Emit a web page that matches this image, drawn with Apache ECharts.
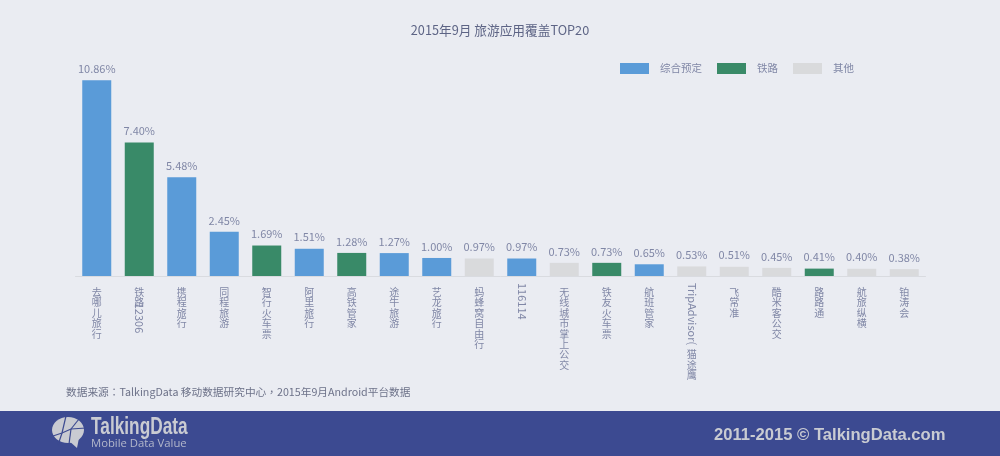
<!DOCTYPE html>
<html>
<head>
<meta charset="utf-8">
<style>
    html, body { margin: 0; padding: 0; background: #eaecf2; }
    #main { width: 1000px; height: 456px; }
</style>
<script src="https://cdn.jsdelivr.net/npm/echarts@6/dist/echarts.min.js"></script>
</head>
<body>
<div id="main"></div>
<script>
    var categories = ['去哪儿旅行', '铁路12306', '携程旅行', '同程旅游', '智行火车票', '阿里旅行', '高铁管家', '途牛旅游', '艺龙旅行', '蚂蜂窝自由行', '116114', '无线城市掌上公交', '铁友火车票', '航班管家', 'TripAdvisor(猫途鹰', '飞常准', '酷米客公交', '路路通', '航旅纵横', '铂涛会'];
    var bookingValues = [10.86, null, 5.48, 2.45, null, 1.51, null, 1.27, 1.00, null, 0.97, null, null, 0.65, null, null, null, null, null, null];
    var railValues = [null, 7.40, null, null, 1.69, null, 1.28, null, null, null, null, null, 0.73, null, null, null, null, 0.41, null, null];
    var otherValues = [null, null, null, null, null, null, null, null, null, 0.97, null, 0.73, null, null, 0.53, 0.51, 0.45, null, 0.40, 0.38];

    // 竖排标签: 中文逐字换行, 拉丁字符侧转(放在第二条x轴上)
    var uprightLabels = ['去哪儿旅行', '铁路', '携程旅行', '同程旅游', '智行火车票', '阿里旅行', '高铁管家', '途牛旅游', '艺龙旅行', '蚂蜂窝自由行', '', '无线城市掌上公交', '铁友火车票', '航班管家', '\n\n\n\n\n\n猫途鹰', '飞常准', '酷米客公交', '路路通', '航旅纵横', '铂涛会'];
    var sideLabels = ['', '        12306', '', '', '', '', '', '', '', '', '116114', '', '', '', 'TripAdvisor(', '', '', '', '', ''];

    var FONT = '"Noto Sans CJK SC", "Noto Sans", sans-serif',
        TEXT_COLOR = '#8087a6',
        BAND_COLOR = '#3c4a91',
        LOGO_COLOR = '#c9cbd2';

    function verticalText(str) {
        return str.split('\n').map(function (s) {
            return s.split('').join('\n');
        }).join('\n');
    }

    function makeSeries(name, values, color) {
        return {
            name: name,
            type: 'bar',
            stack: 'all',
            barWidth: 29,
            data: values,
            itemStyle: { color: color },
            label: {
                show: true,
                position: 'top',
                distance: 6,
                fontFamily: FONT,
                fontSize: 11,
                color: TEXT_COLOR,
                formatter: function (p) {
                    return p.value.toFixed(2) + '%';
                }
            }
        };
    }

    var chart = echarts.init(document.getElementById('main'));

    chart.setOption({
        backgroundColor: '#eaecf2',
        animation: false,
        title: {
            text: '2015年9月 旅游应用覆盖TOP20',
            left: 'center',
            top: 19,
            textStyle: { fontFamily: FONT, fontSize: 12.7, fontWeight: 'normal', color: '#5d6485' }
        },
        legend: {
            left: 615,
            top: 58,
            icon: 'rect',
            itemWidth: 29,
            itemHeight: 11,
            itemGap: 15,
            textStyle: { fontFamily: FONT, fontSize: 10.5, color: TEXT_COLOR, padding: [0, 0, 0, 6] },
            data: ['综合预定', '铁路', '其他']
        },
        grid: { left: 75.5, right: 74.5, top: 56, height: 220 },
        xAxis: [{
            type: 'category',
            data: categories,
            axisLine: { lineStyle: { color: '#d9dbe0' } },
            axisTick: { show: false },
            axisLabel: {
                interval: 0,
                margin: 11,
                fontFamily: FONT,
                fontSize: 10,
                lineHeight: 10.4,
                color: TEXT_COLOR,
                verticalAlign: 'top',
                formatter: function (v, i) {
                    return verticalText(uprightLabels[i]);
                }
            }
        }, {
            type: 'category',
            position: 'bottom',
            data: sideLabels,
            axisLine: { show: false },
            axisTick: { show: false },
            axisLabel: {
                interval: 0,
                rotate: -90,
                margin: 7,
                fontFamily: FONT,
                fontSize: 11,
                color: TEXT_COLOR
            }
        }],
        yAxis: { type: 'value', min: 0, max: 12.2, show: false },
        series: [
            makeSeries('综合预定', bookingValues, '#5a9bd8'),
            makeSeries('铁路', railValues, '#398a68'),
            makeSeries('其他', otherValues, '#d9dadc')
        ],
        graphic: [
            { type: 'rect', z: 1, shape: { x: 0, y: 411, width: 1000, height: 45 }, style: { fill: BAND_COLOR } },
            { type: 'text', x: 66, y: 387, style: { text: '数据来源：TalkingData 移动数据研究中心，2015年9月Android平台数据', font: '10.7px "Noto Sans CJK TC", "Noto Sans", sans-serif', fill: '#6d7289' } },
            // logo
            { type: 'ellipse', z: 2, shape: { cx: 68, cy: 430, rx: 16, ry: 13 }, style: { fill: LOGO_COLOR } },
            { type: 'polygon', z: 2, shape: { points: [[68, 440], [77, 448], [79, 438]] }, style: { fill: LOGO_COLOR } },
            { type: 'polyline', z: 3, shape: { points: [[66, 416], [62, 433], [58, 445]] }, style: { stroke: BAND_COLOR, lineWidth: 1.2, fill: null } },
            { type: 'polyline', z: 3, shape: { points: [[50, 437], [62, 433], [71, 429], [86, 428]] }, style: { stroke: BAND_COLOR, lineWidth: 1.2, fill: null } },
            { type: 'line', z: 3, shape: { x1: 71, y1: 429, x2: 79, y2: 419 }, style: { stroke: BAND_COLOR, lineWidth: 1.2 } },
            { type: 'line', z: 3, shape: { x1: 71, y1: 429, x2: 69, y2: 444 }, style: { stroke: BAND_COLOR, lineWidth: 1.2 } },
            { type: 'text', z: 3, x: 91, y: 415, scaleX: 0.72, style: { text: 'TalkingData', font: 'bold 24px "Liberation Sans", sans-serif', fill: LOGO_COLOR } },
            { type: 'text', z: 3, x: 91, y: 438, style: { text: 'Mobile Data Value', font: '11.3px "Open Sans", sans-serif', fill: '#b3b7cb' } },
            { type: 'text', z: 3, x: 714, y: 427, style: { text: '2011-2015 © TalkingData.com', font: 'bold 16.6px "Liberation Sans", sans-serif', fill: LOGO_COLOR } }
        ]
    });
</script>
</body>
</html>
